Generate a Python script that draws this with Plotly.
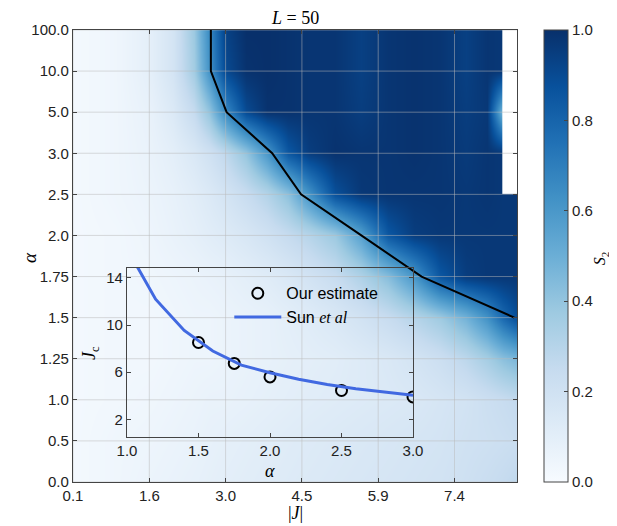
import plotly.graph_objects as go

# ---------------- data ----------------
ALPHA_LABELS = ["0.0", "0.5", "1.0", "1.25", "1.5", "1.75", "2.0", "2.5", "3.0", "5.0", "10.0", "100.0"]
J_GRID = [0.1, 0.9, 1.6, 2.0, 2.4, 2.7, 3.0, 3.4, 3.8, 4.2, 4.6, 5.1, 5.6, 6.1, 6.6, 7.1, 7.6, 8.0, 8.3, 8.55]

# S2 rows, bottom (alpha=0.0) to top (alpha=100.0)
S2 = [
    [0.02, 0.04, 0.06, 0.07, 0.08, 0.09, 0.10, 0.11, 0.12, 0.13, 0.14, 0.15, 0.16, 0.17, 0.18, 0.19, 0.21, 0.23, 0.25, 0.27],
    [0.02, 0.04, 0.05, 0.06, 0.07, 0.08, 0.09, 0.10, 0.11, 0.12, 0.13, 0.14, 0.15, 0.16, 0.17, 0.18, 0.20, 0.21, 0.22, 0.23],
    [0.02, 0.03, 0.04, 0.05, 0.06, 0.07, 0.07, 0.08, 0.09, 0.10, 0.11, 0.12, 0.13, 0.14, 0.15, 0.17, 0.19, 0.22, 0.24, 0.26],
    [0.02, 0.03, 0.03, 0.04, 0.05, 0.05, 0.06, 0.07, 0.08, 0.09, 0.10, 0.11, 0.13, 0.15, 0.18, 0.22, 0.28, 0.35, 0.42, 0.46],
    [0.02, 0.03, 0.03, 0.04, 0.05, 0.05, 0.06, 0.07, 0.08, 0.10, 0.12, 0.15, 0.19, 0.24, 0.30, 0.37, 0.48, 0.62, 0.78, 0.88],
    [0.02, 0.03, 0.04, 0.05, 0.06, 0.07, 0.08, 0.10, 0.12, 0.15, 0.19, 0.24, 0.32, 0.43, 0.60, 0.85, 0.95, 0.97, 0.97, 0.97],
    [0.02, 0.03, 0.05, 0.07, 0.09, 0.11, 0.13, 0.16, 0.20, 0.25, 0.30, 0.38, 0.56, 0.85, 0.95, 0.97, 0.97, 0.97, 0.97, 0.97],
    [0.02, 0.04, 0.06, 0.08, 0.11, 0.14, 0.18, 0.24, 0.31, 0.42, 0.62, 0.88, 0.97, 0.98, 0.98, 0.98, 0.97, 0.98, 0.97, 0.97],
    [0.02, 0.04, 0.07, 0.10, 0.15, 0.20, 0.27, 0.40, 0.60, 0.85, 0.95, 0.99, 0.98, 0.98, 0.99, 0.98, 0.96, 0.98, 0.97, 0.97],
    [0.02, 0.04, 0.08, 0.14, 0.25, 0.40, 0.65, 0.90, 0.99, 0.99, 0.98, 0.98, 0.95, 0.98, 0.99, 0.98, 0.95, 0.97, 0.45, 0.97],
    [0.02, 0.04, 0.10, 0.18, 0.36, 0.62, 0.90, 0.99, 1.00, 0.99, 0.98, 0.98, 0.94, 0.98, 0.99, 0.98, 0.94, 0.98, 0.97, 0.97],
    [0.02, 0.04, 0.10, 0.18, 0.38, 0.65, 0.93, 1.00, 1.00, 0.99, 0.98, 0.98, 0.94, 0.98, 0.99, 0.98, 0.94, 0.98, 0.97, 0.97],
]

J_TICK_VALUES = [0.1, 1.556, 3.011, 4.467, 5.922, 7.378]
J_TICK_LABELS = ["0.1", "1.6", "3.0", "4.5", "5.9", "7.4"]
J_MIN, J_MAX = 0.1, 8.57

# region not computed (left blank in the map)
MISSING_J_FROM = 8.29
MISSING_ALPHA_FROM = "2.5"

# critical coupling estimates
ALPHA_EST = [1.5, 1.75, 2.0, 2.5, 3.0, 5.0, 10.0, 100.0]
JC_EST = [8.52, 6.75, 5.6, 4.45, 3.9, 3.03, 2.73, 2.73]

SUN_ALPHA = [1.0, 1.2, 1.4, 1.6, 1.8, 2.0, 2.2, 2.4, 2.6, 2.8, 3.0]
SUN_JC = [16.5, 12.2, 9.55, 7.8, 6.6, 5.95, 5.4, 4.95, 4.6, 4.3, 4.05]

CB_TICKS = [0.0, 0.2, 0.4, 0.6, 0.8, 1.0]
INSET_X_TICKS = [1.0, 1.5, 2.0, 2.5, 3.0]
INSET_Y_TICKS = [2, 6, 10, 14]

# ---------------- style ----------------
BLUES = ['rgb(247,251,255)', 'rgb(222,235,247)', 'rgb(198,219,239)', 'rgb(158,202,225)',
         'rgb(107,174,214)', 'rgb(66,146,198)', 'rgb(33,113,181)', 'rgb(8,81,156)', 'rgb(8,48,107)']
colorscale = [[i / (len(BLUES) - 1), c] for i, c in enumerate(BLUES)]
SANS = "Liberation Sans, Arial, sans-serif"
SERIF = "Liberation Serif, Times New Roman, serif"
AX = "#444444"
TXT = "#222222"

y_idx = list(range(len(ALPHA_LABELS)))
alpha_to_idx = {float(a): i for i, a in enumerate(ALPHA_LABELS)}

fig = go.Figure()

fig.add_trace(go.Heatmap(
    x=J_GRID, y=y_idx, z=S2, zmin=0, zmax=1, zsmooth="best",
    colorscale=colorscale, hoverinfo="skip",
    colorbar=dict(
        x=1.0608, xanchor="left", xpad=0, y=0.5, yanchor="middle", ypad=0,
        len=452, lenmode="pixels", thickness=24, thicknessmode="pixels",
        outlinecolor=AX, outlinewidth=1,
        ticks="inside", ticklen=4, tickcolor=AX,
        tickvals=CB_TICKS, ticktext=[f"{v:.1f}" for v in CB_TICKS],
        tickfont=dict(family=SANS, size=15, color=TXT),
    ),
))

# blank (not computed) region
miss_lo = ALPHA_LABELS.index(MISSING_ALPHA_FROM)
fig.add_trace(go.Heatmap(
    x=[MISSING_J_FROM, J_MAX + 0.2], y=[miss_lo, len(ALPHA_LABELS)], z=[[1]],
    zsmooth=False, colorscale=[[0, "white"], [1, "white"]], showscale=False, hoverinfo="skip",
))

# grid lines on top of the map
gx, gy = [], []
for v in J_TICK_VALUES:
    gx += [v, v, None]
    gy += [0, len(ALPHA_LABELS) - 1, None]
for i in y_idx:
    gx += [J_MIN, J_MAX, None]
    gy += [i, i, None]
fig.add_trace(go.Scatter(x=gx, y=gy, mode="lines", line=dict(color="rgba(185,185,185,0.5)", width=1),
                         hoverinfo="skip", showlegend=False))

# critical line on the map
fig.add_trace(go.Scatter(
    x=JC_EST, y=[alpha_to_idx[a] for a in ALPHA_EST], mode="lines",
    line=dict(color="black", width=2), showlegend=False, hoverinfo="skip",
))

# inset
inset_est = [(a, j) for a, j in zip(ALPHA_EST, JC_EST) if a <= 3.0]
fig.add_trace(go.Scatter(
    x=[a for a, _ in inset_est], y=[j for _, j in inset_est], mode="markers",
    marker=dict(symbol="circle-open", size=11, color="black", line=dict(width=2, color="black")),
    name="Our estimate", xaxis="x2", yaxis="y2",
))
fig.add_trace(go.Scatter(
    x=SUN_ALPHA, y=SUN_JC, mode="lines", line=dict(color="rgb(65,105,225)", width=3),
    name="Sun <span style='font-family:Liberation Serif'><i>et al</i></span>",
    xaxis="x2", yaxis="y2",
))

main_ax = dict(showgrid=False, zeroline=False, showline=True, linecolor=AX, linewidth=1.3,
               mirror="ticks", ticks="inside", ticklen=4, tickcolor=AX, layer="above traces",
               tickfont=dict(family=SANS, size=15, color=TXT))
inset_ax = dict(showgrid=False, zeroline=False, showline=True, linecolor=AX, linewidth=1.3,
                mirror="ticks", ticks="inside", ticklen=4, tickcolor=AX,
                tickfont=dict(family=SANS, size=15, color=TXT))


def label(text, x, y, size, angle=0):
    return dict(text=text, x=x, y=y, xref="paper", yref="paper", showarrow=False,
                xanchor="center", yanchor="middle", textangle=angle,
                font=dict(family=SERIF, size=size, color="black"))


# page body has an 8px margin: figure is 8px smaller so the plot area lands where intended
fig.update_layout(
    width=609, height=518,
    margin=dict(l=65, r=100, t=22, b=44),
    paper_bgcolor="white", plot_bgcolor="rgba(0,0,0,0)",
    xaxis=dict(range=[J_MIN, J_MAX], tickvals=J_TICK_VALUES, ticktext=J_TICK_LABELS, **main_ax),
    yaxis=dict(range=[0, len(ALPHA_LABELS) - 1], tickvals=y_idx, ticktext=ALPHA_LABELS, **main_ax),
    xaxis2=dict(domain=[0.1216, 0.7658], anchor="y2", range=[1.0, 3.0],
                tickvals=INSET_X_TICKS, ticktext=[f"{v:.1f}" for v in INSET_X_TICKS], **inset_ax),
    yaxis2=dict(domain=[0.0996, 0.4735], anchor="x2", range=[0.5, 14.85],
                tickvals=INSET_Y_TICKS, ticktext=[str(v) for v in INSET_Y_TICKS], **inset_ax),
    legend=dict(x=0.352, y=0.455, xanchor="left", yanchor="top", bgcolor="rgba(0,0,0,0)",
                font=dict(family=SANS, size=16, color="black"), itemwidth=47),
    showlegend=True,
    annotations=[
        label("<i>L</i> = 50", 0.5, 1.0265, 18),
        label("<i>α</i>", -0.0968, 0.4956, 19, -90),
        label("|<i>J</i>|", 0.502, -0.0686, 18),
        label("<i>S</i><sub>2</sub>", 1.19, 0.4956, 16, -90),
        label("<i>J</i><sub>c</sub>", 0.0405, 0.2854, 18, -90),
        label("<i>α</i>", 0.4437, 0.025, 18),
    ],
)

fig.write_html("out.html")
